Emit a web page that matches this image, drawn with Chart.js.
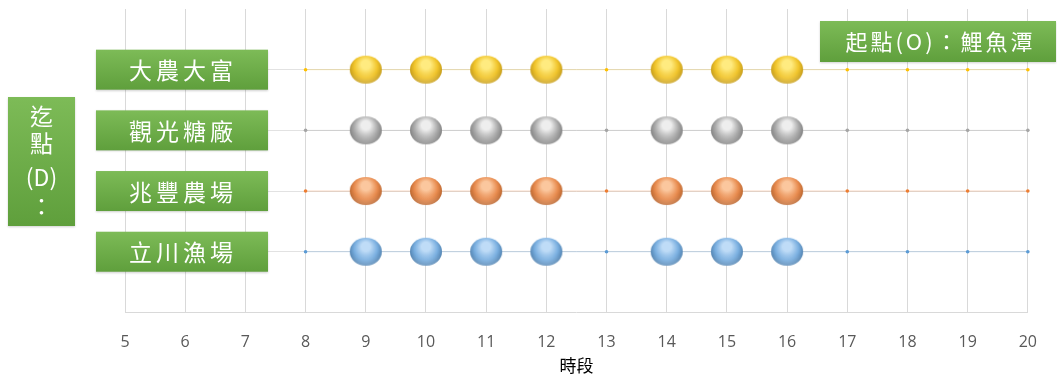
<!DOCTYPE html>
<html>
<head>
<meta charset="utf-8">
<script src="https://cdn.jsdelivr.net/npm/chart.js@4"></script>
<style>
  html, body { margin: 0; padding: 0; background: #fff; }
  #wrap { width: 1057px; height: 376px; }
</style>
</head>
<body>
<div id="wrap"><canvas id="scheduleChart" width="1057" height="376"></canvas></div>
<script>
// 時段 (x axis)
const hours = [8, 9, 10, 11, 12, 13, 14, 15, 16, 17, 18, 19, 20];
const xTicks = [5, 6, 7, 8, 9, 10, 11, 12, 13, 14, 15, 16, 17, 18, 19, 20];

// 迄點, bottom to top
const destinations = ['立川漁場', '兆豐農場', '觀光糖廠', '大農大富'];

// 1 = 有班次 (big ball), 0 = none, one value per hour above
const tripsLichuan  = [0, 1, 1, 1, 1, 0, 1, 1, 1, 0, 0, 0, 0];
const tripsZhaofeng = [0, 1, 1, 1, 1, 0, 1, 1, 1, 0, 0, 0, 0];
const tripsSugar    = [0, 1, 1, 1, 1, 0, 1, 1, 1, 0, 0, 0, 0];
const tripsDanong   = [0, 1, 1, 1, 1, 0, 1, 1, 1, 0, 0, 0, 0];

const originLabel = '起點(O)：鯉魚潭';
const yTitleLines = ['迄', '點', '(D)', '：'];

const CJK = '"Noto Sans CJK TC", "Noto Sans", sans-serif';

// little 3D ball images
function makeBall(light, base, dark) {
    const w = 34, h = 30;
    const c = document.createElement('canvas');
    c.width = w; c.height = h;
    const g = c.getContext('2d');
    const grad = g.createRadialGradient(w / 2, h * 0.3, 1, w / 2, h * 0.45, w * 0.55);
    grad.addColorStop(0, light);
    grad.addColorStop(0.2, light);
    grad.addColorStop(0.6, base);
    grad.addColorStop(1, dark);
    g.fillStyle = grad;
    g.beginPath();
    g.ellipse(w / 2, h / 2, w / 2 - 1, h / 2 - 1, 0, 0, Math.PI * 2);
    g.fill();
    // soft reflected rim at the bottom
    const rim = g.createLinearGradient(0, h * 0.6, 0, h);
    rim.addColorStop(0, 'rgba(255,255,255,0)');
    rim.addColorStop(1, 'rgba(255,255,255,0.2)');
    g.fillStyle = rim;
    g.fill();
    return c;
}

const series = [
    { trips: tripsLichuan,  color: '#5b9bd5', line: 'rgba(91,155,213,0.3)',  ball: makeBall('#bfdcf7', '#7aafe0', '#41709c') },
    { trips: tripsZhaofeng, color: '#ed7d31', line: 'rgba(237,125,49,0.3)',  ball: makeBall('#fbc79e', '#e88b4e', '#a65622') },
    { trips: tripsSugar,    color: '#a5a5a5', line: 'rgba(165,165,165,0.35)', ball: makeBall('#eeeeee', '#ababab', '#6f6f6f') },
    { trips: tripsDanong,   color: '#ffc000', line: 'rgba(240,190,40,0.3)',  ball: makeBall('#ffeb80', '#f1c52c', '#b28a12') }
];

const datasets = series.map((s, i) => ({
    label: destinations[i],
    data: hours.map(h => ({ x: h, y: i + 1 })),
    borderColor: s.line,
    borderWidth: 1,
    backgroundColor: s.color,
    pointBorderWidth: 0,
    pointRadius: ctx => s.trips[ctx.dataIndex] ? 16 : 1.8,
    pointStyle: ctx => s.trips[ctx.dataIndex] ? s.ball : 'circle',
    showLine: true,
    clip: false
}));

// green label boxes
function greenBox(ctx, x, y, w, h) {
    ctx.save();
    ctx.shadowColor = 'rgba(0,0,0,0.18)';
    ctx.shadowBlur = 2;
    ctx.shadowOffsetY = 1;
    const grad = ctx.createLinearGradient(0, y, 0, y + h);
    grad.addColorStop(0, '#7dbb57');
    grad.addColorStop(1, '#5f9f3c');
    ctx.fillStyle = grad;
    ctx.fillRect(x, y, w, h);
    ctx.restore();
}

function spacedText(ctx, text, cx, cy, spacing) {
    ctx.letterSpacing = spacing + 'px';
    ctx.fillText(text, cx + spacing / 2, cy);
    ctx.letterSpacing = '0px';
}

const labelBoxes = {
    id: 'labelBoxes',
    afterDraw(chart) {
        const ctx = chart.ctx;
        const yScale = chart.scales.y;
        ctx.save();
        ctx.textAlign = 'center';
        ctx.textBaseline = 'middle';
        ctx.font = '23px ' + CJK;

        destinations.forEach((name, i) => {
            const cy = yScale.getPixelForValue(i + 1);
            greenBox(ctx, 96, cy - 20, 172, 40);
            ctx.fillStyle = '#fff';
            ctx.font = '23px ' + CJK;
            spacedText(ctx, name, 181, cy + 1, 4);
        });

        // y title
        greenBox(ctx, 8, 97, 67, 129);
        ctx.fillStyle = '#fff';
        ctx.font = '23px ' + CJK;
        const titleY = [116, 143, 177, 206];
        yTitleLines.forEach((t, k) => {
            ctx.fillText(t, 41.5, titleY[k]);
        });

        // origin box
        greenBox(ctx, 820, 21, 236, 41);
        ctx.fillStyle = '#fff';
        ctx.font = '22px ' + CJK;
        spacedText(ctx, originLabel, 939, 42, 3);
        ctx.restore();
    }
};

new Chart(document.getElementById('scheduleChart'), {
    type: 'scatter',
    data: { datasets: datasets },
    options: {
        responsive: false,
        animation: false,
        events: [],
        layout: { padding: { left: 125, right: 29, top: 9, bottom: 0 } },
        plugins: {
            legend: { display: false },
            tooltip: { enabled: false }
        },
        scales: {
            x: {
                type: 'linear',
                min: 5,
                max: 20,
                afterBuildTicks: axis => { axis.ticks = xTicks.map(v => ({ value: v })); },
                grid: { color: '#d9d9d9', drawTicks: false },
                border: { color: '#d9d9d9' },
                ticks: {
                    padding: 20,
                    color: '#595959',
                    font: { family: '"Open Sans", "Liberation Sans", sans-serif', size: 16 }
                },
                title: {
                    display: true,
                    text: '時段',
                    color: '#000',
                    padding: { top: -16, bottom: 0 },
                    font: { family: CJK, size: 17 }
                }
            },
            y: {
                type: 'linear',
                min: 0,
                max: 5,
                ticks: { display: false, stepSize: 1 },
                grid: {
                    drawTicks: false,
                    color: ctx => (ctx.tick && ctx.tick.value >= 1 && ctx.tick.value <= 4) ? '#e2e2e2' : 'rgba(0,0,0,0)'
                },
                border: { display: false }
            }
        }
    },
    plugins: [labelBoxes]
});
</script>
</body>
</html>
